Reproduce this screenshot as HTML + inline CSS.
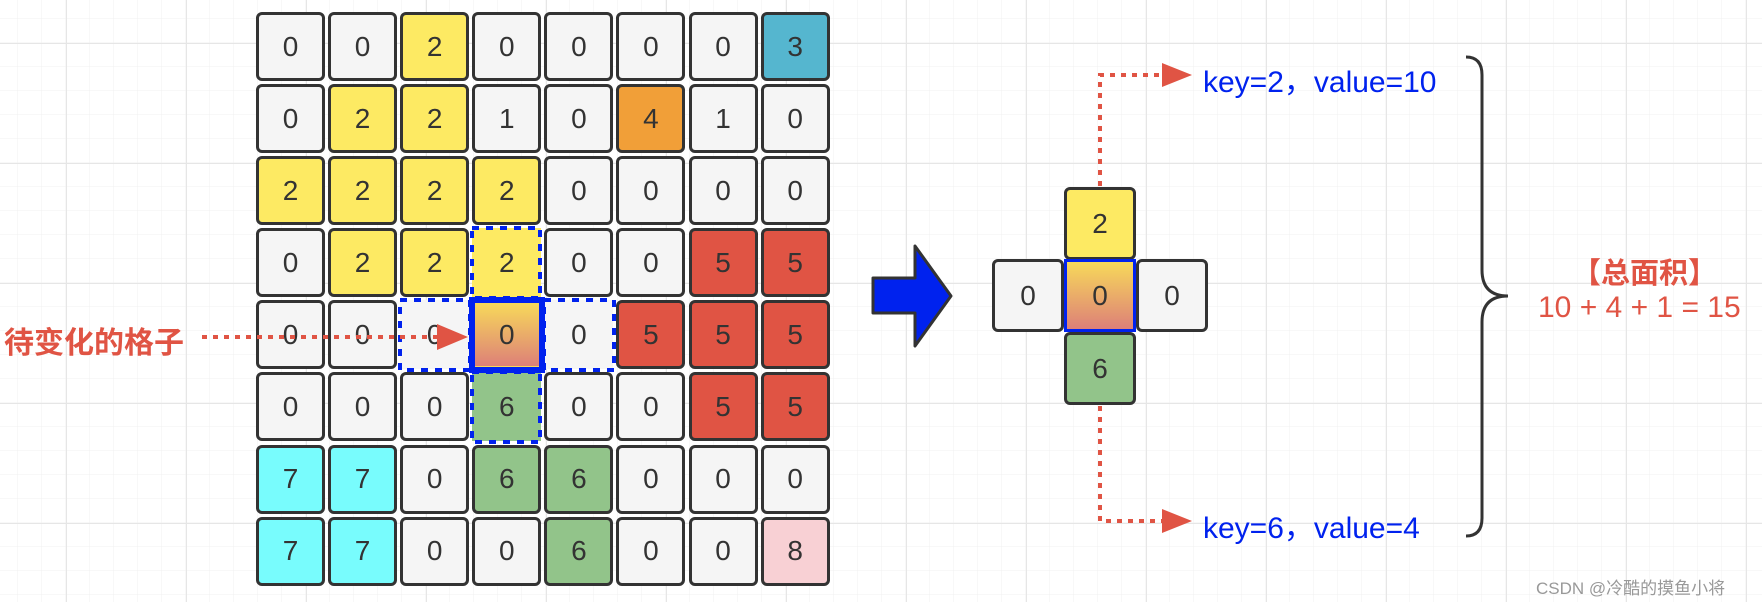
<!DOCTYPE html>
<html><head><meta charset="utf-8"><style>
body{margin:0;width:1762px;height:602px;overflow:hidden;background:#fff;position:relative;font-family:"Liberation Sans","Noto Sans CJK SC",sans-serif}
.bg{position:absolute;left:0;top:0}
.grid{position:absolute;left:256px;top:12px;display:grid;grid-template-columns:repeat(8,69px);grid-auto-rows:69px;gap:3.1px}
.c{box-sizing:border-box;border:3px solid #333;border-radius:6px;background:#f5f5f5;color:#333;font-size:28px;display:flex;align-items:center;justify-content:center}
.y{background:#fdea63}.t{background:#55b6cf}.o{background:#f19f38}.r{background:#e05444}.cy{background:#78fcfd}.g{background:#92c48a}.p{background:#f8d0d4}
.d{border-color:transparent;border-radius:0}
.gr{background:linear-gradient(#f7d95a,#dd8078)}
.x{position:absolute;box-sizing:border-box;border:3px solid #333;border-radius:6px;width:72px;height:73px;color:#333;font-size:28px;display:flex;align-items:center;justify-content:center;background:#f5f5f5}
.txt{position:absolute;white-space:nowrap}
</style></head><body>
<svg class="bg" width="1762" height="602">
<defs>
<pattern id="mi" width="24" height="24" patternUnits="userSpaceOnUse" x="18" y="19"><path d="M24 0V24M0 24H24" stroke="#f0f0f0" stroke-width="1" fill="none"/></pattern>
<pattern id="ma" width="120" height="120" patternUnits="userSpaceOnUse" x="66" y="43"><path d="M0 0V120M0 0H120" stroke="#e6e6e6" stroke-width="2" fill="none"/></pattern>
</defs>
<rect width="1762" height="602" fill="url(#mi)"/>
<rect width="1762" height="602" fill="url(#ma)"/>
</svg>
<div class="grid">
<div class="c">0</div><div class="c">0</div><div class="c y">2</div><div class="c">0</div><div class="c">0</div><div class="c">0</div><div class="c">0</div><div class="c t">3</div>
<div class="c">0</div><div class="c y">2</div><div class="c y">2</div><div class="c">1</div><div class="c">0</div><div class="c o">4</div><div class="c">1</div><div class="c">0</div>
<div class="c y">2</div><div class="c y">2</div><div class="c y">2</div><div class="c y">2</div><div class="c">0</div><div class="c">0</div><div class="c">0</div><div class="c">0</div>
<div class="c">0</div><div class="c y">2</div><div class="c y">2</div><div class="c y d">2</div><div class="c">0</div><div class="c">0</div><div class="c r">5</div><div class="c r">5</div>
<div class="c">0</div><div class="c">0</div><div class="c d">0</div><div class="c gr d">0</div><div class="c d">0</div><div class="c r">5</div><div class="c r">5</div><div class="c r">5</div>
<div class="c">0</div><div class="c">0</div><div class="c">0</div><div class="c g d">6</div><div class="c">0</div><div class="c">0</div><div class="c r">5</div><div class="c r">5</div>
<div class="c cy">7</div><div class="c cy">7</div><div class="c">0</div><div class="c g">6</div><div class="c g">6</div><div class="c">0</div><div class="c">0</div><div class="c">0</div>
<div class="c cy">7</div><div class="c cy">7</div><div class="c">0</div><div class="c">0</div><div class="c g">6</div><div class="c">0</div><div class="c">0</div><div class="c p">8</div>
</div>
<div class="x" style="left:1064px;top:187px;background:#fdea63">2</div>
<div class="x" style="left:992px;top:259px">0</div>
<div class="x" style="left:1136px;top:259px">0</div>
<div class="x" style="left:1064px;top:332px;background:#92c48a">6</div>
<div class="x" style="left:1064px;top:259px;border-color:#0022ee;border-radius:0;background:linear-gradient(#f7d95a,#dd8078)">0</div>
<svg class="bg" width="1762" height="602">
<g fill="none" stroke="#0022ee" stroke-width="4" stroke-dasharray="7,7">
<rect x="472" y="228" width="68" height="70"/>
<rect x="400" y="300" width="70" height="70"/>
<rect x="544" y="300" width="70" height="70"/>
<rect x="472" y="372" width="68" height="70"/>
</g>
<rect x="472" y="300" width="70" height="70" fill="none" stroke="#0022ee" stroke-width="6"/>
<g stroke="#e05444" stroke-width="4" stroke-dasharray="5,6" fill="none">
<path d="M202 337H440"/>
<path d="M1100 186V75H1162"/>
<path d="M1100 406V521H1162"/>
</g>
<g fill="#e05444">
<path d="M437 324L468 337L437 350Z"/>
<path d="M1162 63L1192 75L1162 87Z"/>
<path d="M1162 509L1192 521L1162 533Z"/>
</g>
<path d="M873 278H915V246L951 296L915 346V313H873Z" fill="#0022ee" stroke="#333" stroke-width="3" stroke-linejoin="round"/>
<path d="M1466 57Q1482 57 1482 75V270Q1482 296 1508 296Q1482 296 1482 322V518Q1482 536 1466 536" fill="none" stroke="#333" stroke-width="3"/>
</svg>
<div class="txt" style="left:4px;top:318px;font-size:30px;color:#e05444;font-weight:bold">待变化的格子</div>
<div class="txt" style="left:1203px;top:57px;font-size:30px;color:#0022ee">key=2，value=10</div>
<div class="txt" style="left:1203px;top:503px;font-size:30px;color:#0022ee">key=6，value=4</div>
<div class="txt" style="left:1572px;top:250px;font-size:29px;color:#e05444;font-weight:bold">【总面积】</div>
<div class="txt" style="left:1538px;top:291px;font-size:30px;color:#e05444">10 + 4 + 1 = 15</div>
<div class="txt" style="left:1536px;top:574px;font-size:17px;color:#999">CSDN @冷酷的摸鱼小将</div>
</body></html>
